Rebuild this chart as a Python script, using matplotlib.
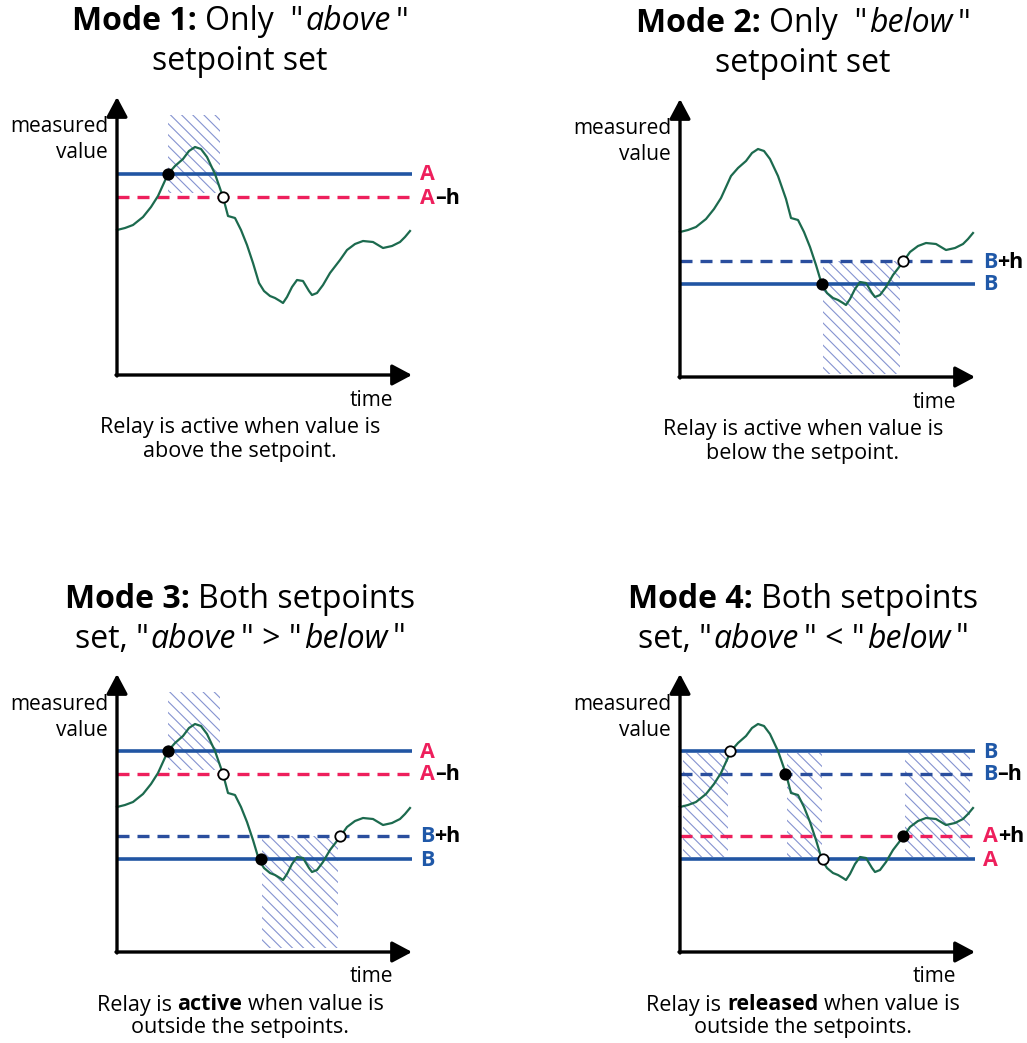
import matplotlib
matplotlib.use('Agg')
import matplotlib.pyplot as plt
from matplotlib.offsetbox import TextArea, HPacker, AnnotationBbox, DrawingArea

FAMILY = ['Open Sans', 'DejaVu Sans']
plt.rcParams['font.family'] = FAMILY
plt.rcParams['hatch.linewidth'] = 0.8

# ---------------- data ----------------
curve_time = [0, 8, 16, 26, 34, 41, 51, 58, 66, 72, 78, 84, 90, 98, 106, 111, 118, 124,
              130, 136, 142, 147, 153, 158, 163, 166, 170, 175, 180, 186, 192, 195, 200,
              206, 213, 223, 230, 238, 246, 256, 266, 275, 283, 288, 293]
curve_value = [145, 147, 150, 158, 168, 179, 201, 209, 216, 224, 228, 226, 218, 201, 178,
               159, 157, 145, 130, 112, 92, 84, 79, 77, 74, 72, 78, 88, 95, 94, 84, 80, 82,
               90, 102, 115, 125, 131, 134, 133, 127, 129, 133, 138, 144]

level_high, level_high_h, level_low_h, level_low = 201, 178, 116, 93

# setpoint lines per panel: (label main, label suffix, level, dashed, colour key)
setpoints = [
    [('A', '', level_high, False, 'A'), ('A', '–h', level_high_h, True, 'A')],
    [('B', '+h', level_low_h, True, 'B'), ('B', '', level_low, False, 'B')],
    [('A', '', level_high, False, 'A'), ('A', '–h', level_high_h, True, 'A'),
     ('B', '+h', level_low_h, True, 'B'), ('B', '', level_low, False, 'B')],
    [('B', '', level_high, False, 'B'), ('B', '–h', level_high_h, True, 'B'),
     ('A', '+h', level_low_h, True, 'A'), ('A', '', level_low, False, 'A')],
]

# active (hatched) regions: (t_start, t_end, v_low, v_high)
active_regions = [
    [(51, 103, 182, 260)],
    [(143, 220, 3, 116)],
    [(51, 103, 182, 260), (145, 221, 4, 116)],
    [(3, 48, 95, 199), (107, 142, 95, 199), (225, 290, 95, 199)],
]

# switching points: (time, level, filled)
switch_points = [
    [(51, level_high, True), (106, level_high_h, False)],
    [(142, level_low, True), (223, level_low_h, False)],
    [(51, level_high, True), (106, level_high_h, False), (144, level_low, True), (223, level_low_h, False)],
    [(50, level_high, False), (105, level_high_h, True), (143, level_low, False), (223, level_low_h, True)],
]

# titles: lists of (text, style) segments; style n=normal, b=bold, i=italic
titles = [
    ([('Mode 1:', 'b'), (' Only  "', 'n'), ('above', 'i'), ('"', 'n')], [('setpoint set', 'n')]),
    ([('Mode 2:', 'b'), (' Only  "', 'n'), ('below', 'i'), ('"', 'n')], [('setpoint set', 'n')]),
    ([('Mode 3:', 'b'), (' Both setpoints', 'n')],
     [('set, "', 'n'), ('above', 'i'), ('" > "', 'n'), ('below', 'i'), ('"', 'n')]),
    ([('Mode 4:', 'b'), (' Both setpoints', 'n')],
     [('set, "', 'n'), ('above', 'i'), ('" < "', 'n'), ('below', 'i'), ('"', 'n')]),
]
captions = [
    ([('Relay is active when value is', 'n')], [('above the setpoint.', 'n')]),
    ([('Relay is active when value is', 'n')], [('below the setpoint.', 'n')]),
    ([('Relay is ', 'n'), ('active', 'b'), (' when value is', 'n')], [('outside the setpoints.', 'n')]),
    ([('Relay is ', 'n'), ('released', 'b'), (' when value is', 'n')], [('outside the setpoints.', 'n')]),
]
y_label = ['measured', 'value']
x_label = 'time'

# ---------------- style ----------------
W, H = 1027, 1043
C_BLUE = '#2155a3'
C_BLUE_LBL = '#1f58a8'
C_PINK = '#ee1f5c'
C_GREEN = '#1c6a4e'
C_HATCH = '#8593d0'
label_colour = {'A': C_PINK, 'B': C_BLUE_LBL}
dash_colour = {'A': C_PINK, 'B': '#2a4e9e'}

origins = [(117, 375), (680, 377), (117, 952), (680, 952)]
XW, YH = 295, 278

fig = plt.figure(figsize=(W / 100, H / 100), dpi=100)


def rich(ax, xy, segs, size, align=(0.5, 0.5), colours=None):
    kids = []
    for k, (txt, st) in enumerate(segs):
        col = colours[k] if colours else 'black'
        lead = len(txt) - len(txt.lstrip(' '))
        trail = len(txt) - len(txt.rstrip(' '))
        core = txt.strip(' ')
        sp = size * 0.26
        if st == 'i':
            kids.append(DrawingArea(size * 0.06, 0.1))
        if lead:
            kids.append(DrawingArea(sp * lead, 0.1))
        props = dict(fontsize=size, color=col, family=FAMILY,
                     fontweight='bold' if st == 'b' else 'normal',
                     fontstyle='italic' if st == 'i' else 'normal')
        if core:
            kids.append(TextArea(core, textprops=props))
        if trail:
            kids.append(DrawingArea(sp * trail, 0.1))
        if st == 'i':
            kids.append(DrawingArea(size * 0.16, 0.1))
    box = HPacker(children=kids, align='baseline', pad=0, sep=0)
    ab = AnnotationBbox(box, xy, xycoords='data', box_alignment=align,
                        frameon=False, pad=0, annotation_clip=False)
    ax.add_artist(ab)


for p in range(4):
    ox, oy = origins[p]
    ax = fig.add_axes([ox / W, (H - oy) / H, XW / W, YH / H])
    ax.set_xlim(0, XW)
    ax.set_ylim(0, YH)
    ax.axis('off')

    # hatched active regions
    for (t0, t1, v0, v1) in active_regions[p]:
        ax.fill_between([t0, t1], [v0, v0], [v1, v1], facecolor='none',
                        edgecolor=C_HATCH, linewidth=0, hatch='\\\\\\', zorder=1)

    # setpoint lines + labels
    for (main, suf, lev, dashed, key) in setpoints[p]:
        if dashed:
            ax.plot([0, XW], [lev, lev], color=dash_colour[key], lw=2.4,
                    linestyle=(0, (3.6, 2.4)), zorder=2, solid_capstyle='butt')
        else:
            ax.plot([0, XW], [lev, lev], color=C_BLUE, lw=2.6, zorder=2,
                    solid_capstyle='butt')
        segs = [(main, 'b')] + ([(suf, 'b')] if suf else [])
        cols = [label_colour[key]] + (['black'] if suf else [])
        rich(ax, (303, lev - 1), segs, 15.5, align=(0, 0.5), colours=cols)

    # measured curve
    ax.plot(curve_time, curve_value, color=C_GREEN, lw=1.6, zorder=3, clip_on=False)

    # switching points
    for (t, lev, filled) in switch_points[p]:
        ax.plot([t], [lev], marker='o', markersize=7.5,
                markerfacecolor='black' if filled else 'white',
                markeredgecolor='black', markeredgewidth=1.3, zorder=5,
                linestyle='none', clip_on=False)

    # axes arrows
    arrow = dict(arrowstyle='-|>,head_length=0.6,head_width=0.32', lw=2.4,
                 color='black', shrinkA=0, shrinkB=0, mutation_scale=20)
    ax.annotate('', xy=(XW, 0), xytext=(-1, 0), arrowprops=arrow, annotation_clip=False)
    ax.annotate('', xy=(0, YH), xytext=(0, -1), arrowprops=arrow, annotation_clip=False)

    # axis labels
    ax.text(-9, 248, y_label[0], ha='right', va='center', fontsize=15, clip_on=False)
    ax.text(-9, 222, y_label[1], ha='right', va='center', fontsize=15, clip_on=False)
    ax.text(276, -25, x_label, ha='right', va='center', fontsize=15, clip_on=False)

    # title and caption
    rich(ax, (123, 353), titles[p][0], 23)
    rich(ax, (123, 313), titles[p][1], 23)
    rich(ax, (123, -53), captions[p][0], 15.5)
    rich(ax, (123, -76), captions[p][1], 15.5)

fig.savefig('out.png', dpi=100)
